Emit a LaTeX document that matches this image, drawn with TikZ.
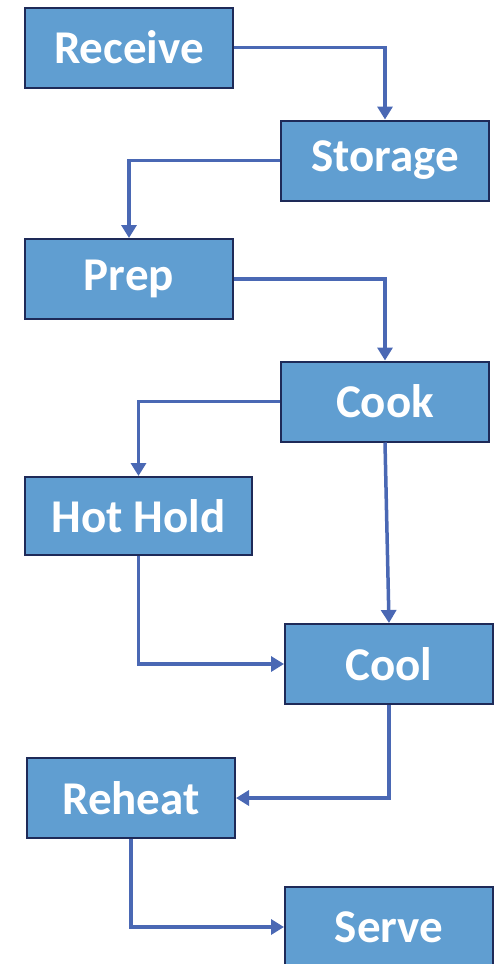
\documentclass[tikz,border=0pt]{standalone}
\usepackage{fontspec}
\setmainfont{Carlito}
\usetikzlibrary{arrows.meta}
\definecolor{boxfill}{HTML}{609ED1}
\definecolor{boxline}{HTML}{1E2A58}
\definecolor{arrowc}{HTML}{4A68B4}
\tikzset{
  stepbox/.style={draw=boxline, line width=2pt, fill=boxfill, text=white,
    font=\fontsize{47}{47}\selectfont\bfseries, minimum height=80pt, inner sep=0pt},
  flow/.style={draw=arrowc, line width=3.5pt, -{Triangle[width=15pt,length=13pt]}}
}
\begin{document}
\begin{tikzpicture}[x=1pt,y=-1pt]
\useasboundingbox (0,0) rectangle (495,964);
\node[stepbox, minimum width=208pt] (receive) at (129,47.5) {Receive};
\node[stepbox, minimum width=208pt] (storage) at (385,160.5) {Storage};
\node[stepbox, minimum width=208pt] (prep) at (129,279) {Prep};
\node[stepbox, minimum width=208pt] (cook) at (385,401.5) {Cook};
\node[stepbox, minimum width=227pt, minimum height=78pt] (hothold) at (138.5,516) {Hot Hold};
\node[stepbox, minimum width=208pt] (cool) at (389,664) {Cool};
\node[stepbox, minimum width=208pt] (reheat) at (131,798) {Reheat};
\node[stepbox, minimum width=208pt] (serve) at (389,927) {Serve};
\draw[flow] (receive.east) -| (storage.north);
\draw[flow] (storage.west) -| (prep.north);
\draw[flow] (prep.east) -| (cook.north);
\draw[flow] (cook.west) -| (hothold.north);
\draw[flow] (cook.south) -- (cool.north);
\draw[flow] (hothold.south) |- (cool.west);
\draw[flow] (cool.south) |- (reheat.east);
\draw[flow] (reheat.south) |- (serve.west);
\end{tikzpicture}
\end{document}
